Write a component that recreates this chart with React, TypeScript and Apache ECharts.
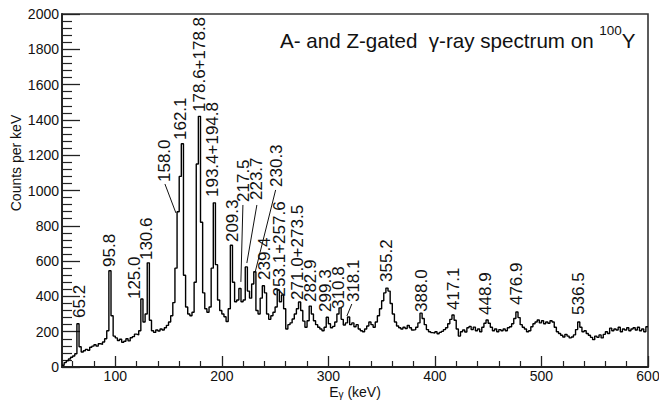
import React, { useEffect, useRef } from "react";
import * as echarts from "echarts";

// Histogram bins: 2 keV wide, lower edges from 50 keV
const binStart = 50;
const binWidth = 2;

const counts050to148 = [
  10, 25, 35, 45, 55,
  62, 75, 245, 115, 85,
  92, 100, 95, 112, 118,
  126, 118, 132, 128, 142,
  160, 205, 545, 290, 175,
  165, 150, 157, 140, 146,
  160, 148, 166, 172, 186,
  182, 205, 385, 255, 300,
  590, 265, 205, 196, 210,
  204, 215, 210, 222, 236,
];
const counts150to248 = [
  255, 290, 365, 560, 880,
  1080, 1265, 520, 340, 300,
  290, 310, 480, 1150, 1420,
  820, 420, 330, 310, 340,
  560, 930, 580, 380, 320,
  300, 285, 258, 330, 690,
  480, 370, 380, 445, 370,
  380, 567, 430, 390, 470,
  540, 320, 300, 390, 460,
  420, 300, 270, 290, 310,
];
const counts250to348 = [
  340, 436, 370, 408, 330,
  215, 240, 250, 272, 300,
  330, 368, 320, 260, 225,
  262, 345, 300, 262, 240,
  225, 215, 205, 225, 282,
  245, 222, 230, 255, 300,
  335, 270, 238, 250, 283,
  240, 250, 228, 240, 215,
  205, 200, 215, 232, 255,
  240, 225, 255, 290, 330,
];
const counts350to448 = [
  375, 420, 447, 430, 360,
  300, 255, 232, 222, 215,
  225, 218, 235, 222, 210,
  212, 225, 250, 305, 275,
  240, 212, 200, 195, 192,
  200, 188, 196, 202, 212,
  222, 245, 270, 295, 265,
  215, 175, 200, 210, 198,
  222, 230, 212, 226, 205,
  215, 200, 225, 248, 266,
];
const counts450to598 = [
  248, 225, 205, 215, 200,
  212, 205, 215, 205, 222,
  228, 245, 275, 312, 280,
  240, 225, 215, 200, 205,
  228, 245, 255, 266, 250,
  262, 245, 255, 248, 262,
  255, 225, 200, 190, 180,
  170, 185, 175, 165, 170,
  182, 212, 255, 225, 200,
  205, 190, 180, 168, 155,
  175, 168, 182, 165, 185,
  200, 190, 220, 205, 215,
  210, 225, 200, 215, 210,
  222, 205, 215, 222, 210,
  225, 205, 215, 200, 228,
];

// Peak labels and where their (rotated) text starts, in data coordinates
const peakLabels = [
  "65.2", "95.8", "125.0", "130.6", "158.0", "162.1", "178.6+178.8", "193.4+194.8",
  "209.3", "217.5", "223.7", "230.3", "239.4", "253.1+257.6", "271.0+273.5", "282.9",
  "299.3", "310.8", "318.1", "355.2", "388.0", "417.1", "448.9", "476.9", "536.5",
];
const labelEnergy = [
  66.4, 95.0, 118.5, 129.7, 146.6, 161.6, 179.5, 191.7,
  210.4, 220.7, 232.9, 251.6, 240.4, 254.5, 271.4, 283.6,
  297.7, 309.8, 323.9, 354.9, 387.7, 417.7, 447.7, 476.8, 535.0,
];
const labelCounts = [
  278, 567, 385, 606, 1048, 1286, 1445, 963,
  708, 935, 946, 1020, 493, 400, 380, 368,
  312, 329, 368, 482, 312, 323, 295, 351, 295,
];
// Leader lines: [fromEnergy, fromCounts, toEnergy, toCounts]
const leaderLines: Record<string, number[]> = {
  "158.0": [146.6, 1037, 156.9, 873],
  "217.5": [219.8, 918, 217.9, 482],
  "223.7": [232.9, 918, 223.5, 589],
  "230.3": [250.5, 1003, 231.1, 533],
  "318.1": [322.0, 357, 317.4, 289],
};

const xMajorTicks = [100, 200, 300, 400, 500, 600];
const xMinorTicks = [
  60, 80, 120, 140, 160, 180, 220, 240, 260, 280, 320, 340, 360, 380,
  420, 440, 460, 480, 520, 540, 560, 580,
];

const FONT = "'Liberation Sans', Arial, Helvetica, sans-serif";
const INK = "#111";
const TICK = "#222";

export default function App() {
  const ref = useRef<HTMLDivElement>(null);

  useEffect(() => {
    if (!ref.current) return;
    const chart = echarts.init(ref.current, undefined, { renderer: "svg" });

    const counts = [
      ...counts050to148,
      ...counts150to248,
      ...counts250to348,
      ...counts350to448,
      ...counts450to598,
    ];
    const spectrum: number[][] = counts.map((c, i) => [binStart + i * binWidth, c]);
    spectrum.push([binStart + counts.length * binWidth, counts[counts.length - 1]]);

    const labelData = peakLabels.map((_, i) => [labelEnergy[i], labelCounts[i], i]);

    const option: any = {
      animation: false,
      textStyle: { fontFamily: FONT },
      title: {
        text: "{a|A- and Z-gated  γ-ray spectrum on }{s|100}{a|Y}",
        left: 280,
        top: 23,
        padding: 0,
        textStyle: {
          fontWeight: "normal",
          rich: {
            a: { fontSize: 20.6, fontWeight: "normal", color: INK, fontFamily: FONT, lineHeight: 28, verticalAlign: "bottom" },
            s: { fontSize: 13.5, fontWeight: "normal", color: INK, fontFamily: FONT, verticalAlign: "top" },
          },
        },
      },
      grid: {
        left: 62,
        right: 11,
        top: 14,
        bottom: 33,
        show: true,
        borderColor: "#333",
        borderWidth: 1.6,
        backgroundColor: "transparent",
        containLabel: false,
        outerBoundsMode: "none",
      },
      xAxis: [
        {
          type: "value",
          min: 50,
          max: 600,
          position: "bottom",
          axisLine: { show: true, lineStyle: { color: "#222", width: 1.8 } },
          axisTick: {
            show: true,
            inside: true,
            length: 11,
            customValues: xMajorTicks,
            lineStyle: { color: TICK, width: 1.3 },
          },
          axisLabel: {
            show: true,
            customValues: xMajorTicks,
            fontSize: 14,
            color: INK,
            margin: 2,
            formatter: (v: number) => String(v),
          },
          splitLine: { show: false },
        },
        {
          type: "value",
          min: 50,
          max: 600,
          position: "bottom",
          axisLine: { show: false },
          axisTick: {
            show: true,
            inside: true,
            length: 6,
            customValues: xMinorTicks,
            lineStyle: { color: TICK, width: 1.2 },
          },
          axisLabel: { show: false },
          splitLine: { show: false },
        },
      ],
      yAxis: {
        type: "value",
        min: 0,
        max: 2000,
        interval: 200,
        axisLine: { show: true, lineStyle: { color: "#222", width: 1.8 } },
        axisTick: { show: true, inside: true, length: 18, lineStyle: { color: TICK, width: 1.3 } },
        minorTick: { show: true, splitNumber: 5, length: 10, lineStyle: { color: TICK, width: 1.2 } },
        axisLabel: { fontSize: 14, color: INK, margin: 3, formatter: (v: number) => String(v) },
        splitLine: { show: false },
        minorSplitLine: { show: false },
      },
      graphic: [
        {
          type: "text",
          x: 16,
          y: 163,
          rotation: Math.PI / 2,
          style: {
            text: "Counts per keV",
            fontSize: 14,
            fontFamily: FONT,
            fill: INK,
            align: "center",
            verticalAlign: "middle",
          },
        },
        {
          type: "text",
          x: 355,
          y: 392,
          style: {
            text: "{a|E}{s|γ}{a| (keV)}",
            align: "center",
            verticalAlign: "middle",
            fontFamily: FONT,
            fill: INK,
            rich: {
              a: { fontSize: 14, fill: INK, fontFamily: FONT, lineHeight: 14, verticalAlign: "top" },
              s: { fontSize: 10, fill: INK, fontFamily: FONT, verticalAlign: "bottom" },
            },
          },
        },
      ],
      series: [
        {
          type: "line",
          data: spectrum,
          step: "end",
          showSymbol: false,
          symbol: "none",
          lineStyle: { color: "#000", width: 1.4 },
          xAxisIndex: 0,
          yAxisIndex: 0,
          z: 3,
        },
        {
          type: "custom",
          xAxisIndex: 0,
          yAxisIndex: 0,
          data: labelData,
          clip: false,
          z: 4,
          renderItem: (params: any, api: any) => {
            const i = api.value(2);
            const txt = peakLabels[i];
            const p = api.coord([api.value(0), api.value(1)]);
            const children: any[] = [
              {
                type: "text",
                x: p[0],
                y: p[1],
                rotation: Math.PI / 2,
                style: {
                  text: txt,
                  fontSize: 17,
                  fontFamily: FONT,
                  fill: INK,
                  align: "left",
                  verticalAlign: "middle",
                },
              },
            ];
            const ld = leaderLines[txt];
            if (ld) {
              const a = api.coord([ld[0], ld[1]]);
              const b = api.coord([ld[2], ld[3]]);
              children.push({
                type: "line",
                shape: { x1: a[0], y1: a[1], x2: b[0], y2: b[1] },
                style: { stroke: INK, lineWidth: 1 },
              });
            }
            return { type: "group", children };
          },
        },
      ],
    };

    chart.setOption(option);
    return () => chart.dispose();
  }, []);

  return (
    <div
      ref={ref}
      style={{ position: "fixed", left: 0, top: 0, width: 659, height: 400, background: "#fff" }}
    />
  );
}
